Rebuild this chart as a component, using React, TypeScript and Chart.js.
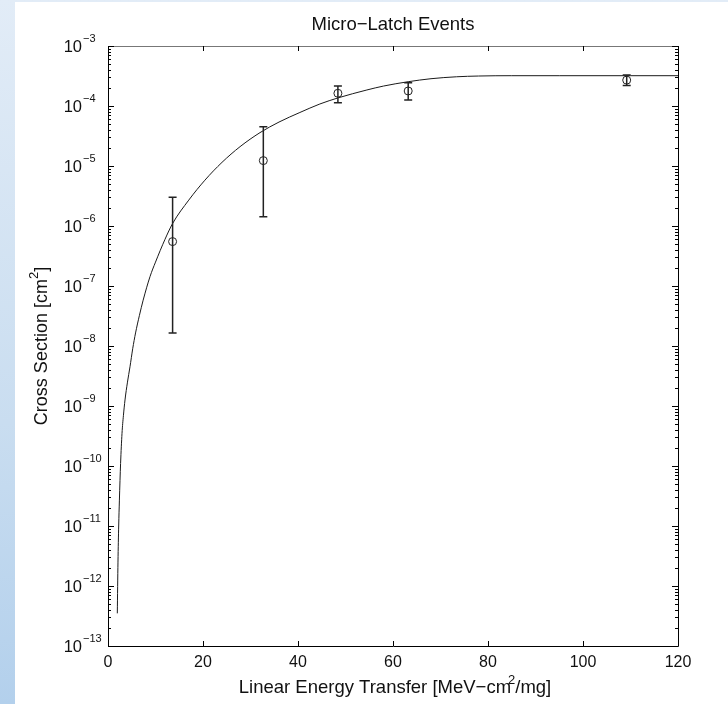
import React, { useEffect, useRef } from 'react';
import { Chart, registerables } from 'chart.js';

Chart.register(...registerables);

const FONT = '"Liberation Sans", Arial, Helvetica, sans-serif';

const titleText = 'Micro\u2212Latch Events';
const xTitleMain = 'Linear Energy Transfer [MeV\u2212cm';
const xTitleSup = '2';
const xTitleEnd = '/mg]';
const yTitleMain = 'Cross Section [cm';
const yTitleSup = '2';
const yTitleEnd = ']';

const xTicks = [0, 20, 40, 60, 80, 100, 120];
const yExponents = [-13, -12, -11, -10, -9, -8, -7, -6, -5, -4, -3];

// measured points
const dataLET = [13.6, 32.7, 48.4, 63.2, 109.2];
const dataSigma = [5.5e-7, 1.23e-5, 1.63e-4, 1.78e-4, 2.7e-4];
const errLow = [1.65e-8, 1.43e-6, 1.13e-4, 1.26e-4, 2.2e-4];
const errHigh = [3.0e-6, 4.5e-5, 2.15e-4, 2.45e-4, 3.3e-4];

// fitted curve
const curveLET = [1.96, 2.1, 2.25, 2.4, 2.65, 2.95, 3.25, 3.58, 4.1, 4.63, 5.2, 5.8, 6.6, 7.4, 8.84, 10, 12, 13.6, 17, 20.4, 24, 27.8, 32, 36, 40.4, 44.6, 48.5, 54.5, 58, 63.2, 68, 73.4, 78, 85, 95, 110, 120];
const curveSigma = [3.5e-13, 2.5e-12, 1.0e-11, 2.7e-11, 1.1e-10, 3.5e-10, 7.0e-10, 1.26e-9, 2.5e-9, 4.5e-9, 9.0e-9, 1.65e-8, 3.2e-8, 5.8e-8, 1.43e-7, 2.5e-7, 6.0e-7, 1.1e-6, 2.7e-6, 5.8e-6, 1.15e-5, 2.1e-5, 3.6e-5, 5.4e-5, 7.8e-5, 1.08e-4, 1.37e-4, 1.85e-4, 2.15e-4, 2.54e-4, 2.85e-4, 3.07e-4, 3.16e-4, 3.2e-4, 3.2e-4, 3.2e-4, 3.2e-4];

const decorPlugin = {
  id: 'decor',
  afterDatasetsDraw(chart: any) {
    const ctx = chart.ctx;
    const xs = chart.scales.x;
    const ys = chart.scales.y;
    ctx.save();
    ctx.strokeStyle = '#222';
    ctx.lineWidth = 1.5;
    for (let i = 0; i < dataLET.length; i++) {
      const px = xs.getPixelForValue(dataLET[i]);
      const yl = ys.getPixelForValue(errLow[i]);
      const yh = ys.getPixelForValue(errHigh[i]);
      ctx.beginPath();
      ctx.moveTo(px, yl);
      ctx.lineTo(px, yh);
      ctx.moveTo(px - 4, yl);
      ctx.lineTo(px + 4, yl);
      ctx.moveTo(px - 4, yh);
      ctx.lineTo(px + 4, yh);
      ctx.stroke();
    }
    ctx.restore();
  },
  afterDraw(chart: any) {
    const ctx = chart.ctx;
    const xs = chart.scales.x;
    const ys = chart.scales.y;
    const { left, right, top, bottom } = chart.chartArea;
    ctx.save();
    ctx.lineWidth = 1;
    ctx.strokeStyle = '#777';
    ctx.beginPath();
    ctx.moveTo(left, top + 0.5);
    ctx.lineTo(right, top + 0.5);
    ctx.stroke();
    ctx.strokeStyle = '#000';
    ctx.beginPath();
    ctx.moveTo(left + 0.5, top);
    ctx.lineTo(left + 0.5, bottom + 0.5);
    ctx.lineTo(right + 0.5, bottom + 0.5);
    ctx.lineTo(right + 0.5, top);
    ctx.stroke();
    ctx.beginPath();
    for (const v of xTicks) {
      const px = Math.round(xs.getPixelForValue(v)) + 0.5;
      ctx.moveTo(px, bottom);
      ctx.lineTo(px, bottom - 5);
      ctx.moveTo(px, top);
      ctx.lineTo(px, top + 5);
    }
    for (const e of yExponents) {
      const py = Math.round(ys.getPixelForValue(Math.pow(10, e))) + 0.5;
      ctx.moveTo(left, py);
      ctx.lineTo(left + 6, py);
      ctx.moveTo(right, py);
      ctx.lineTo(right - 6, py);
      if (e < -3) {
        for (let m = 2; m <= 9; m++) {
          const my = Math.round(ys.getPixelForValue(m * Math.pow(10, e))) + 0.5;
          ctx.moveTo(left, my);
          ctx.lineTo(left + 3, my);
          ctx.moveTo(right, my);
          ctx.lineTo(right - 3, my);
        }
      }
    }
    ctx.stroke();

    ctx.fillStyle = '#111';
    ctx.font = `16px ${FONT}`;
    ctx.textBaseline = 'middle';
    ctx.textAlign = 'center';
    for (const v of xTicks) {
      ctx.fillText(String(v), xs.getPixelForValue(v), 663);
    }
    for (const e of yExponents) {
      const py = ys.getPixelForValue(Math.pow(10, e));
      ctx.font = `16.5px ${FONT}`;
      ctx.textAlign = 'right';
      ctx.fillText('10', 82, py + 1);
      ctx.font = `11px ${FONT}`;
      ctx.textAlign = 'left';
      ctx.fillText('\u2212' + Math.abs(e), 83, py - 7);
    }

    // title
    ctx.font = `18.5px ${FONT}`;
    ctx.textAlign = 'center';
    ctx.fillText(titleText, (left + right) / 2, 25);

    // x title
    const cx = (left + right) / 2 + 2;
    ctx.font = `18.5px ${FONT}`;
    const w1 = ctx.measureText(xTitleMain).width;
    const w3 = ctx.measureText(xTitleEnd).width;
    ctx.font = `13px ${FONT}`;
    const w2 = ctx.measureText(xTitleSup).width;
    const overlap = 3;
    const total = w1 + w2 - overlap + w3;
    const x0 = cx - total / 2;
    ctx.textAlign = 'left';
    ctx.font = `18.5px ${FONT}`;
    ctx.fillText(xTitleMain, x0, 688);
    ctx.font = `13px ${FONT}`;
    ctx.fillText(xTitleSup, x0 + w1 - overlap, 680);
    ctx.font = `18.5px ${FONT}`;
    ctx.fillText(xTitleEnd, x0 + w1 - overlap + w2, 688);

    // y title
    ctx.save();
    ctx.translate(42, (top + bottom) / 2);
    ctx.rotate(-Math.PI / 2);
    ctx.font = `18px ${FONT}`;
    const v1 = ctx.measureText(yTitleMain).width;
    const v3 = ctx.measureText(yTitleEnd).width;
    ctx.font = `13px ${FONT}`;
    const v2 = ctx.measureText(yTitleSup).width;
    const vt = v1 + v2 + v3;
    const s0 = -vt / 2;
    ctx.textAlign = 'left';
    ctx.font = `18px ${FONT}`;
    ctx.fillText(yTitleMain, s0, 0);
    ctx.font = `13px ${FONT}`;
    ctx.fillText(yTitleSup, s0 + v1, -8);
    ctx.font = `18px ${FONT}`;
    ctx.fillText(yTitleEnd, s0 + v1 + v2, 0);
    ctx.restore();

    ctx.restore();
  },
};

export default function App() {
  const canvasRef = useRef<HTMLCanvasElement | null>(null);

  useEffect(() => {
    document.body.style.margin = '0';
    const canvas = canvasRef.current;
    if (!canvas) return;
    const chart = new Chart(canvas, {
      type: 'scatter',
      data: {
        datasets: [
          {
            type: 'line',
            label: 'Fit',
            data: curveLET.map((x, i) => ({ x, y: curveSigma[i] })),
            borderColor: '#1a1a1a',
            borderWidth: 1,
            pointRadius: 0,
            fill: false,
            cubicInterpolationMode: 'monotone',
          } as any,
          {
            type: 'scatter',
            label: 'Data',
            data: dataLET.map((x, i) => ({ x, y: dataSigma[i] })),
            borderColor: '#222',
            backgroundColor: 'rgba(0,0,0,0)',
            borderWidth: 1,
            pointRadius: 4,
            pointStyle: 'circle',
          } as any,
        ],
      },
      options: {
        responsive: false,
        animation: false,
        devicePixelRatio: 1,
        layout: { padding: { left: 0, right: 50, top: 46, bottom: 0 } },
        plugins: {
          legend: { display: false },
          title: { display: false },
          tooltip: { enabled: false },
        },
        scales: {
          x: {
            type: 'linear',
            min: 0,
            max: 120,
            grid: { display: false },
            border: { display: false },
            ticks: { display: false },
            afterFit(scale: any) {
              scale.height = 58;
            },
          },
          y: {
            type: 'logarithmic',
            min: 1e-13,
            max: 1e-3,
            grid: { display: false },
            border: { display: false },
            ticks: { display: false },
            afterFit(scale: any) {
              scale.width = 108;
            },
          },
        },
      },
      plugins: [decorPlugin],
    });
    return () => chart.destroy();
  }, []);

  return (
    <div
      style={{
        position: 'fixed',
        left: 0,
        top: 0,
        width: 728,
        height: 704,
        background: 'linear-gradient(180deg, #e2ecf7 0%, #c9ddf0 60%, #b3d0ec 100%)',
        overflow: 'hidden',
      }}
    >
      <div
        style={{
          position: 'absolute',
          left: 15,
          top: 2,
          width: 713,
          height: 702,
          background: '#ffffff',
        }}
      />
      <canvas
        ref={canvasRef}
        width={728}
        height={704}
        style={{ position: 'absolute', left: 0, top: 0, width: 728, height: 704 }}
      />
    </div>
  );
}
